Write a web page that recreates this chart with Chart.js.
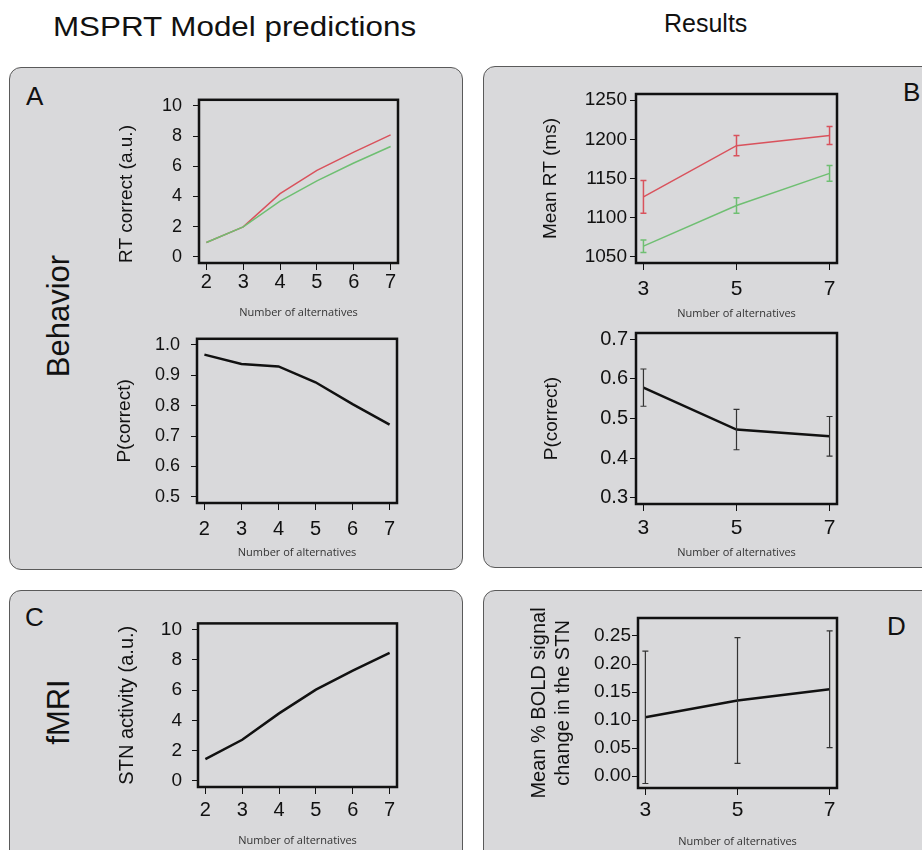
<!DOCTYPE html>
<html>
<head>
<meta charset="utf-8">
<script src="https://cdn.jsdelivr.net/npm/chart.js@4/dist/chart.umd.min.js"></script>
<style>
  body { margin: 0; background: #fff; font-family: "Liberation Sans", Arial, sans-serif; color: #111; }
  #page { position: relative; width: 922px; height: 850px; overflow: hidden; }
  .panel { position: absolute; background: #d9d9db; border: 1.5px solid #5a5a5a; border-radius: 12px; }
  .txt { position: absolute; white-space: nowrap; line-height: 1; }
  .rot { transform: translate(-50%, -50%) rotate(-90deg); }
  canvas { position: absolute; }
</style>
</head>
<body>
<div id="page">
  <div class="txt" style="left:53px;top:13px;font-size:28px;transform:scaleX(1.12);transform-origin:left top">MSPRT Model predictions</div>
  <div class="txt" style="left:664px;top:11px;font-size:25px">Results</div>

  <div class="panel" style="left:9px;top:67px;width:452px;height:501px"></div>
  <div class="panel" style="left:483px;top:66px;width:470px;height:500px"></div>
  <div class="panel" style="left:9px;top:590px;width:452px;height:300px"></div>
  <div class="panel" style="left:483px;top:590px;width:470px;height:300px"></div>

  <div class="txt" style="left:26px;top:83px;font-size:26px">A</div>
  <div class="txt" style="left:903px;top:79px;font-size:26px">B</div>
  <div class="txt" style="left:25px;top:604px;font-size:26px">C</div>
  <div class="txt" style="left:887px;top:613px;font-size:26px">D</div>

  <div class="txt rot" style="left:58px;top:316px;font-size:31px">Behavior</div>
  <div class="txt rot" style="left:58px;top:712px;font-size:31px">fMRI</div>

  <canvas id="rtModel"></canvas>
  <canvas id="pModel"></canvas>
  <canvas id="rtExp"></canvas>
  <canvas id="pExp"></canvas>
  <canvas id="stnModel"></canvas>
  <canvas id="boldExp"></canvas>
</div>

<script>
// ── DATA ──────────────────────────────────────────────
const altsModel = [2, 3, 4, 5, 6, 7];
const altsExp   = [3, 5, 7];

// A: model predictions
const rtModelRed     = [0.96, 1.99, 4.19, 5.73, 6.94, 8.08];
const rtModelGreen   = [0.96, 1.99, 3.70, 5.04, 6.22, 7.31];
const pCorrectModel  = [0.968, 0.937, 0.929, 0.877, 0.805, 0.738];

// B: results
const rtExpRed       = [1126.5, 1192, 1205];
const rtExpRedErr    = [21, 13, 11.5];
const rtExpGreen     = [1063.5, 1115.5, 1156.5];
const rtExpGreenErr  = [8, 10, 10];
const pCorrectExp    = [0.578, 0.472, 0.455];
const pCorrectExpErr = [0.047, 0.051, 0.050];

// C / D: fMRI
const stnModel       = [1.44, 2.72, 4.46, 6.03, 7.28, 8.45];
const boldExp        = [0.105, 0.135, 0.155];
const boldExpErr     = [0.118, 0.112, 0.104];

// tick labels
const ticksModelX = [2, 3, 4, 5, 6, 7];
const ticksExpX   = [3, 5, 7];
const ticksRT     = [0, 2, 4, 6, 8, 10];
const ticksPModel = [0.5, 0.6, 0.7, 0.8, 0.9, 1.0];
const ticksRTExp  = [1050, 1100, 1150, 1200, 1250];
const ticksPExp   = [0.3, 0.4, 0.5, 0.6, 0.7];
const ticksBold   = [0.00, 0.05, 0.10, 0.15, 0.20, 0.25];

// ── STYLE ─────────────────────────────────────────────
const RED   = '#d9525c';
const GREEN = '#6fbf72';
const INK   = '#111';
const SANS  = '"Liberation Sans", Arial, sans-serif';

// ── PLUGINS ───────────────────────────────────────────
const frameBox = {
  id: 'frameBox',
  afterDraw(chart) {
    const { ctx, chartArea: a } = chart;
    ctx.save();
    ctx.strokeStyle = INK; ctx.lineWidth = 2.5;
    ctx.strokeRect(a.left, a.top, a.right - a.left, a.bottom - a.top);
    ctx.restore();
  }
};

const errorBars = {
  id: 'errorBars',
  afterDatasetsDraw(chart, args, opts) {
    const { ctx, scales: { x, y } } = chart;
    (opts.bars || []).forEach(b => {
      const pts = chart.data.datasets[b.ds].data;
      ctx.save();
      ctx.strokeStyle = b.color; ctx.lineWidth = b.width || 1.2;
      pts.forEach((p, i) => {
        const px = x.getPixelForValue(p.x);
        const hi = y.getPixelForValue(p.y + b.err[i]);
        const lo = y.getPixelForValue(p.y - b.err[i]);
        ctx.beginPath();
        ctx.moveTo(px, hi); ctx.lineTo(px, lo);
        ctx.moveTo(px - 3, hi); ctx.lineTo(px + 3, hi);
        ctx.moveTo(px - 3, lo); ctx.lineTo(px + 3, lo);
        ctx.stroke();
      });
      ctx.restore();
    });
  }
};

// ── HELPERS ───────────────────────────────────────────
const pts = (xs, ys) => xs.map((x, i) => ({ x, y: ys[i] }));
const line = (xs, ys, color, width) => ({
  data: pts(xs, ys), borderColor: color, borderWidth: width,
  pointRadius: 0, tension: 0, fill: false
});

// g: box (l,t,r,b) + canvas edges (cl,ct,cr,cb)
function plot(id, g, o) {
  const cv = document.getElementById(id);
  cv.width  = g.cr - g.cl;
  cv.height = g.cb - g.ct;
  cv.style.left = g.cl + 'px';
  cv.style.top  = g.ct + 'px';
  return new Chart(cv, {
    type: 'line',
    data: { datasets: o.datasets },
    options: {
      responsive: false, animation: false,
      layout: { padding: { top: g.t - g.ct, right: g.cr - g.r, left: 0, bottom: 0 } },
      plugins: {
        legend: { display: false }, tooltip: { enabled: false },
        errorBars: { bars: o.bars || [] }
      },
      scales: {
        x: {
          type: 'linear', min: o.xMin, max: o.xMax,
          afterBuildTicks: s => { s.ticks = o.xTicks.map(v => ({ value: v })); },
          afterFit: s => { s.height = g.cb - g.b; },
          grid: { drawOnChartArea: false, drawTicks: true, tickLength: 7, color: INK, lineWidth: 1 },
          border: { display: false },
          ticks: { font: { family: SANS, size: o.xSize || 20 }, color: INK, padding: o.xPad, maxRotation: 0, autoSkip: false },
          title: { display: true, text: 'Number of alternatives', font: { family: '"Open Sans", sans-serif', size: 11 }, color: '#333', padding: 0 }
        },
        y: {
          type: 'linear', min: o.yMin, max: o.yMax,
          afterBuildTicks: s => { s.ticks = o.yTicks.map(v => ({ value: v })); },
          afterFit: s => { s.width = g.l - g.cl; },
          grid: { drawOnChartArea: false, drawTicks: true, tickLength: 6, color: INK, lineWidth: 1 },
          border: { display: false },
          ticks: { font: { family: SANS, size: o.ySize || 18 }, color: INK, padding: o.yPad,
                   autoSkip: false, callback: v => Number(v).toFixed(o.dec) },
          title: { display: true, text: o.yTitle, align: o.yAlign || 'center',
                   font: { family: SANS, size: o.yTitleSize || 19 }, color: INK, padding: 0 }
        }
      }
    },
    plugins: [frameBox, errorBars]
  });
}

// ── CHARTS ────────────────────────────────────────────
plot('rtModel', { l: 199, t: 94, r: 398, b: 263, cl: 115, ct: 78, cr: 414, cb: 319 }, {
  datasets: [line(altsModel, rtModelGreen, GREEN, 1.5), line(altsModel, rtModelRed, RED, 1.5)],
  xMin: 1.8, xMax: 7.2, xTicks: ticksModelX, xPad: 0,
  yMin: -0.4, yMax: 10.4, yTicks: ticksRT, yPad: 11, dec: 0,
  yTitle: 'RT correct (a.u.)', yAlign: 'start'
});

plot('pModel', { l: 197, t: 333, r: 397, b: 503, cl: 113, ct: 317, cr: 413, cb: 559 }, {
  datasets: [line(altsModel, pCorrectModel, INK, 2.5)],
  xMin: 1.8, xMax: 7.2, xTicks: ticksModelX, xPad: 7,
  yMin: 0.48, yMax: 1.02, yTicks: ticksPModel, yPad: 11, dec: 1,
  yTitle: 'P(correct)'
});

plot('rtExp', { l: 636, t: 94, r: 837, b: 263, cl: 539, ct: 78, cr: 853, cb: 320 }, {
  datasets: [line(altsExp, rtExpRed, RED, 1.5), line(altsExp, rtExpGreen, GREEN, 1.5)],
  bars: [{ ds: 0, err: rtExpRedErr, color: RED, width: 1.5 }, { ds: 1, err: rtExpGreenErr, color: GREEN, width: 1.5 }],
  xMin: 2.84, xMax: 7.16, xTicks: ticksExpX, xPad: 7, xSize: 21,
  yMin: 1042, yMax: 1258, yTicks: ticksRTExp, yPad: 3, dec: 0, ySize: 19,
  yTitle: 'Mean RT (ms)'
});

plot('pExp', { l: 636, t: 333, r: 837, b: 504, cl: 540, ct: 317, cr: 853, cb: 559 }, {
  datasets: [line(altsExp, pCorrectExp, INK, 2.5)],
  bars: [{ ds: 0, err: pCorrectExpErr, color: '#333', width: 1.2 }],
  xMin: 2.84, xMax: 7.16, xTicks: ticksExpX, xPad: 5, xSize: 21,
  yMin: 0.284, yMax: 0.716, yTicks: ticksPExp, yPad: 2, dec: 1, ySize: 20,
  yTitle: 'P(correct)'
});

plot('stnModel', { l: 198, t: 618, r: 397, b: 787, cl: 115, ct: 602, cr: 413, cb: 847 }, {
  datasets: [line(altsModel, stnModel, INK, 2.5)],
  xMin: 1.8, xMax: 7.2, xTicks: ticksModelX, xPad: 4,
  yMin: -0.4, yMax: 10.4, yTicks: ticksRT, yPad: 10, dec: 0, ySize: 19,
  yTitle: 'STN activity (a.u.)', yTitleSize: 20
});

plot('boldExp', { l: 638, t: 618, r: 837, b: 788, cl: 527, ct: 602, cr: 853, cb: 848 }, {
  datasets: [line(altsExp, boldExp, INK, 2.5)],
  bars: [{ ds: 0, err: boldExpErr, color: '#333', width: 1.2 }],
  xMin: 2.84, xMax: 7.16, xTicks: ticksExpX, xPad: 3, xSize: 21,
  yMin: -0.021, yMax: 0.282, yTicks: ticksBold, yPad: 1, dec: 2, ySize: 19,
  yTitle: ['Mean % BOLD signal', 'change in the STN'], yTitleSize: 20
});
</script>
</body>
</html>
